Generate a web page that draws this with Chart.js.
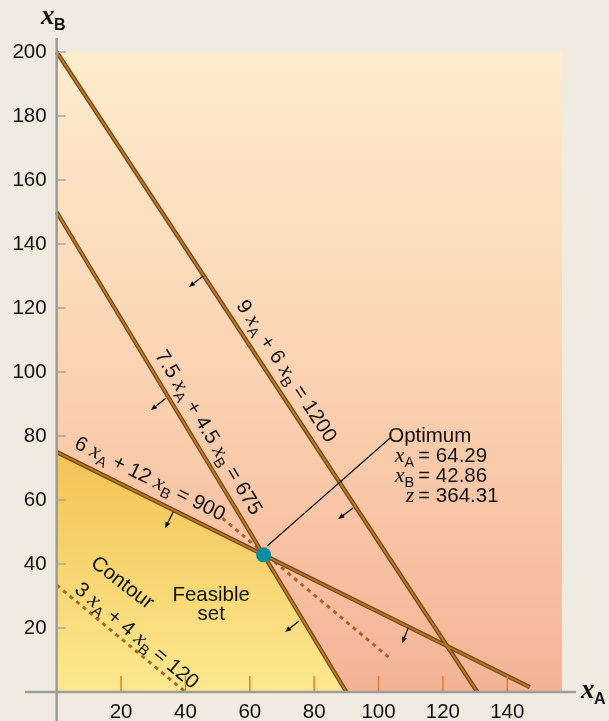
<!DOCTYPE html>
<html><head><meta charset="utf-8">
<script src="https://cdn.jsdelivr.net/npm/chart.js@4/dist/chart.umd.min.js"></script>
<style>html,body{margin:0;padding:0;background:#efebe0;}canvas{display:block}</style>
</head><body>
<canvas id="c" width="609" height="721"></canvas>
<script>
// ---- data ----
const xTicks = [20, 40, 60, 80, 100, 120, 140];
const yTicks = [20, 40, 60, 80, 100, 120, 140, 160, 180, 200];
const lineMachineA = [{x:0,y:200},{x:130.7,y:0}];      // 9 xA + 6 xB = 1200
const lineMachineB = [{x:0,y:150},{x:90,y:0}];         // 7.5 xA + 4.5 xB = 675
const lineMachineC = [{x:0,y:75},{x:147,y:1.5}];       // 6 xA + 12 xB = 900
const contourLine  = [{x:0,y:33.4},{x:40,y:0}];        // 3 xA + 4 xB = 120
const optimumContour = [{x:51.5,y:54.3},{x:103.6,y:10.5}];
const feasibleSet = [{x:0,y:75},{x:64.29,y:42.86},{x:90,y:0}];
const optimumPoint = [{x:64.29,y:42.86}];
const leader = [{x:65.4,y:45.6},{x:103.6,y:79.4}];
const arrows = [ // [fromX, fromY, toX, toY]
  [45.5,130,41.1,126.6],
  [34.0,91.9,29.3,88.1],
  [36.2,56.25,33.7,51.25],
  [75.3,22.2,71.0,18.75],
  [109.2,20,107.4,15.3],
  [92.1,57.5,87.5,54.1]
];
const optimumValues = {xA:'64.29', xB:'42.86', z:'364.31'};

const SANS = "'Liberation Sans', Arial, sans-serif";
const SERIF = "'Liberation Serif', 'Times New Roman', serif";
const FONTS = {
  n: '20.5px ' + SANS,
  i: 'italic 22px ' + SERIF,
  s: '14.5px ' + SANS
};
const lineLabels = [
  {line: lineMachineA, at:{x:71.6,y:100.4}, segs:[['9 ','n'],['x','i'],['A','s'],[' + 6 ','n'],['x','i'],['B','s'],[' = 1200','n']]},
  {line: lineMachineB, at:{x:47.4,y:81.25}, segs:[['7.5 ','n'],['x','i'],['A','s'],[' + 4.5 ','n'],['x','i'],['B','s'],[' = 675','n']]},
  {line: lineMachineC, at:{x:29.1,y:66.9}, segs:[['6 ','n'],['x','i'],['A','s'],[' + 12 ','n'],['x','i'],['B','s'],[' = 900','n']]},
  {line: contourLine, at:{x:25.0,y:17.8}, segs:[['3 ','n'],['x','i'],['A','s'],[' + 4 ','n'],['x','i'],['B','s'],[' = 120','n']]},
  {line: contourLine, at:{x:20.6,y:34.4}, segs:[['Contour','n']], extraAngle:-2}
];

function segWidth(ctx, segs){
  let w = 0;
  for (const [t,k] of segs){ ctx.font = FONTS[k]; w += ctx.measureText(t).width; }
  return w;
}
function drawSegs(ctx, segs, x, baseline){
  for (const [t,k] of segs){
    ctx.font = FONTS[k];
    ctx.fillText(t, x, baseline + (k==='s' ? 5 : 0));
    x += ctx.measureText(t).width;
  }
  return x;
}

const decor = {
  id:'decor',
  beforeDraw(chart){
    const {ctx, chartArea:a} = chart;
    ctx.save();
    ctx.fillStyle = '#efebe0';
    ctx.fillRect(0,0,chart.width,chart.height);
    const g = ctx.createLinearGradient(0,a.top,0,a.bottom);
    g.addColorStop(0,'#fdeccd');
    g.addColorStop(0.5,'#fbd3b2');
    g.addColorStop(1,'#f5b396');
    ctx.fillStyle = g;
    ctx.fillRect(a.left,a.top,a.right-a.left,a.bottom-a.top);
    ctx.restore();
  },
  afterDatasetsDraw(chart){
    const {ctx, chartArea:a, scales:{x:sx,y:sy}} = chart;
    const X = v=>sx.getPixelForValue(v), Y = v=>sy.getPixelForValue(v);
    ctx.save();
    // axes
    ctx.strokeStyle = '#9c9c9c';
    ctx.lineWidth = 2.5;
    ctx.beginPath();
    ctx.moveTo(X(0), a.top-14); ctx.lineTo(X(0), chart.height);
    ctx.moveTo(25, Y(0)); ctx.lineTo(576, Y(0));
    ctx.stroke();
    // y ticks
    ctx.lineWidth = 1.5; ctx.strokeStyle = '#a4a4a4';
    ctx.beginPath();
    for (const v of yTicks){ ctx.moveTo(X(0), Y(v)); ctx.lineTo(X(0)+9, Y(v)); }
    ctx.stroke();
    // x ticks
    ctx.strokeStyle = '#e3802f';
    ctx.beginPath();
    for (const v of xTicks){ ctx.moveTo(X(v), Y(0)-1); ctx.lineTo(X(v), Y(0)-16); }
    ctx.stroke();
    // arrows
    ctx.strokeStyle = '#111'; ctx.fillStyle = '#111'; ctx.lineWidth = 1.3;
    for (const [x1,y1,x2,y2] of arrows){
      const p1=[X(x1),Y(y1)], p2=[X(x2),Y(y2)];
      const ang = Math.atan2(p2[1]-p1[1], p2[0]-p1[0]);
      ctx.beginPath(); ctx.moveTo(p1[0],p1[1]); ctx.lineTo(p2[0]-Math.cos(ang)*3, p2[1]-Math.sin(ang)*3); ctx.stroke();
      ctx.beginPath();
      ctx.moveTo(p2[0],p2[1]);
      ctx.lineTo(p2[0]-Math.cos(ang)*6+Math.sin(ang)*2.6, p2[1]-Math.sin(ang)*6-Math.cos(ang)*2.6);
      ctx.lineTo(p2[0]-Math.cos(ang)*6-Math.sin(ang)*2.6, p2[1]-Math.sin(ang)*6+Math.cos(ang)*2.6);
      ctx.closePath(); ctx.fill();
    }
    // rotated labels
    ctx.fillStyle = '#111';
    ctx.textBaseline = 'alphabetic';
    ctx.textAlign = 'left';
    for (const L of lineLabels){
      const p1=[X(L.line[0].x),Y(L.line[0].y)], p2=[X(L.line[1].x),Y(L.line[1].y)];
      const ang = Math.atan2(p2[1]-p1[1], p2[0]-p1[0]) + (L.extraAngle||0)*Math.PI/180;
      ctx.save();
      ctx.translate(X(L.at.x), Y(L.at.y));
      ctx.rotate(ang);
      const w = segWidth(ctx, L.segs);
      drawSegs(ctx, L.segs, -w/2, 7);
      ctx.restore();
    }
    // feasible set
    ctx.font = FONTS.n; ctx.textAlign = 'center';
    ctx.fillText('Feasible', X(48.0), Y(30.6)+7);
    ctx.fillText('set', X(48.0), Y(24.7)+7);
    // optimum block
    const ox = X(103.0), oy = Y(78.1);
    ctx.textAlign = 'left';
    ctx.font = FONTS.n;
    ctx.fillText('Optimum', ox, oy);
    const rows = [
      [[['x','i'],['A','s']], optimumValues.xA],
      [[['x','i'],['B','s']], optimumValues.xB],
      [[['z','i']], optimumValues.z]
    ];
    rows.forEach((r,i)=>{
      const base = oy + 20*(i+1);
      const w = segWidth(ctx, r[0]);
      drawSegs(ctx, r[0], ox+26-w, base);
      ctx.font = FONTS.n; ctx.textAlign='left';
      ctx.fillText('= ' + r[1], ox+30, base);
    });
    // axis titles
    ctx.font = 'bold italic 27px ' + SERIF;
    ctx.fillText('x', 581, 698);
    ctx.font = 'bold 16px ' + SANS;
    ctx.fillText('A', 594, 704);
    ctx.font = 'bold italic 27px ' + SERIF;
    ctx.fillText('x', 41, 24);
    ctx.font = 'bold 16px ' + SANS;
    ctx.fillText('B', 54, 30);
    ctx.restore();
  }
};

const brownOuter = '#76450f', brownInner = '#b8792c';
function lineDs(data, color, width, order, dash){
  return {type:'line', data, borderColor:color, borderWidth:width, pointRadius:0, showLine:true,
          fill:false, clip:false, order, borderDash:dash||[], borderCapStyle:'butt', tension:0};
}
const datasets = [
  {type:'scatter', data: optimumPoint, pointRadius:7.5, pointBackgroundColor:'#0a8da1', pointBorderWidth:0, order:0, clip:false},
  lineDs(leader, '#111', 1.3, 1),
  lineDs(lineMachineA, brownInner, 1.8, 2), lineDs(lineMachineA, brownOuter, 4.2, 3),
  lineDs(lineMachineB, brownInner, 1.8, 2), lineDs(lineMachineB, brownOuter, 4.2, 3),
  lineDs(lineMachineC, brownInner, 1.8, 2), lineDs(lineMachineC, brownOuter, 4.2, 3),
  lineDs(contourLine, '#aa6428', 3, 4, [4,4.5]),
  lineDs(optimumContour, '#aa6428', 3, 4, [4,4.5]),
  {type:'line', data: feasibleSet, borderWidth:0, borderColor:'rgba(0,0,0,0)', pointRadius:0, order:9, clip:false,
   fill:'origin', tension:0,
   backgroundColor(ctx){
     const c = ctx.chart, a = c.chartArea; if(!a) return '#f8d870';
     const sy = c.scales.y;
     const g = c.ctx.createLinearGradient(0, sy.getPixelForValue(75), 0, a.bottom);
     g.addColorStop(0,'#f3c355'); g.addColorStop(1,'#fce88f');
     return g;
   }}
];

new Chart(document.getElementById('c'), {
  type:'scatter',
  data:{datasets},
  options:{
    responsive:false, animation:false, devicePixelRatio:1,
    layout:{padding:{left:0,right:47,top:52,bottom:0}},
    plugins:{legend:{display:false}, tooltip:{enabled:false}},
    scales:{
      x:{type:'linear', min:0, max:157, position:'bottom',
         afterBuildTicks(s){ s.ticks = xTicks.map(v=>({value:v})); },
         afterFit(s){ s.height = 29; },
         grid:{display:false, drawTicks:false}, border:{display:false},
         ticks:{font:{family:SANS, size:20.5}, color:'#111', padding:8, maxRotation:0, autoSkip:false}},
      y:{type:'linear', min:0, max:200, position:'left',
         afterBuildTicks(s){ s.ticks = yTicks.map(v=>({value:v})); },
         afterFit(s){ s.width = 56.67; },
         grid:{display:false, drawTicks:false}, border:{display:false},
         ticks:{font:{family:SANS, size:20.5}, color:'#111', padding:10, autoSkip:false}}
    }
  },
  plugins:[decor]
});
</script>
</body></html>
